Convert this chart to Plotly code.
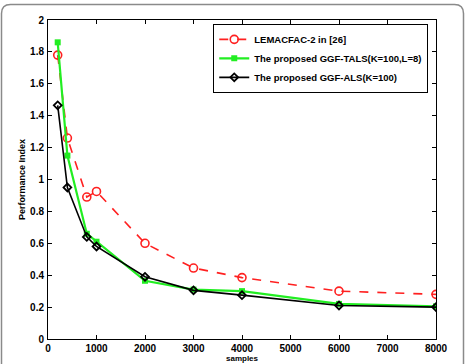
import plotly.graph_objects as go

samples = [200, 400, 800, 1000, 2000, 3000, 4000, 6000, 8000]
lemacfac = [1.78, 1.26, 0.89, 0.925, 0.60, 0.445, 0.385, 0.30, 0.28]
ggf_tals = [1.86, 1.15, 0.66, 0.61, 0.365, 0.31, 0.30, 0.22, 0.205]
ggf_als = [1.465, 0.95, 0.64, 0.58, 0.39, 0.305, 0.275, 0.21, 0.20]

names = ["LEMACFAC-2 in [26]", "The proposed GGF-TALS(K=100,L=8)", "The proposed GGF-ALS(K=100)"]
xticks = [0, 1000, 2000, 3000, 4000, 5000, 6000, 7000, 8000]
yticks = [0, 0.2, 0.4, 0.6, 0.8, 1, 1.2, 1.4, 1.6, 1.8, 2]
x_title = "samples"
y_title = "Performance Index"

FONT = "Arial, Liberation Sans, sans-serif"

fig = go.Figure()
fig.add_trace(go.Scatter(x=samples, y=lemacfac, name=names[0], mode="lines+markers",
                         line=dict(color="#ff2020", width=1.6, dash="dash"),
                         marker=dict(symbol="circle-open", size=8, color="#ff2020", line=dict(width=1.6))))
fig.add_trace(go.Scatter(x=samples, y=ggf_tals, name=names[1], mode="lines+markers",
                         line=dict(color="#22ee22", width=2.2),
                         marker=dict(symbol="square", size=6, color="#22ee22")))
fig.add_trace(go.Scatter(x=samples, y=ggf_als, name=names[2], mode="lines+markers",
                         line=dict(color="black", width=1.6),
                         marker=dict(symbol="diamond-open", size=6, color="black", line=dict(width=1.8))))

L, R, T, B = 48, 31, 20, 25
W, H = 467, 364
pw, ph = W - L - R, H - T - B

def px(x):
    return (x - L) / pw

def py(y):
    return (H - B - y) / ph

# rounded frame around the figure
x0, x1, yt, yb, r = 1.5, 463.5, 4.5, 380, 9
path = (f"M {px(x0)},{py(yb)} L {px(x0)},{py(yt + r)} Q {px(x0)},{py(yt)} {px(x0 + r)},{py(yt)} "
        f"L {px(x1 - r)},{py(yt)} Q {px(x1)},{py(yt)} {px(x1)},{py(yt + r)} L {px(x1)},{py(yb)}")
fig.add_shape(type="path", path=path, xref="paper", yref="paper",
              line=dict(color="#8a8a8a", width=1.5), layer="below")

fig.add_annotation(text=x_title, xref="paper", yref="paper", x=0.5, y=py(364),
                   xanchor="center", yanchor="bottom", showarrow=False, borderpad=0,
                   font=dict(family=FONT, size=8, color="black", weight="bold"))

axis_common = dict(showgrid=False, zeroline=False, showline=True, linecolor="black", linewidth=1,
                   mirror="ticks", ticks="inside", ticklen=4, tickcolor="black", automargin=False,
                   tickfont=dict(family=FONT, size=10, color="black", weight="bold"))

fig.update_layout(
    width=W, height=H,
    margin=dict(l=L, r=R, t=T, b=B),
    paper_bgcolor="white", plot_bgcolor="white",
    showlegend=True,
    legend=dict(x=0.98, y=0.988, xanchor="right", yanchor="top",
                bgcolor="white", bordercolor="black", borderwidth=1,
                font=dict(family=FONT, size=9.5, color="black", weight="bold"),
                tracegroupgap=0, itemwidth=30),
    xaxis=dict(range=[0, 8000], tickvals=xticks, ticktext=[str(v) for v in xticks],
               ticklabelstandoff=0, **axis_common),
    yaxis=dict(range=[0, 2], tickvals=yticks, ticktext=[f"{v:g}" for v in yticks],
               ticklabelstandoff=1,
               title=dict(text=y_title, font=dict(family=FONT, size=9, color="black", weight="bold"), standoff=2),
               **axis_common),
)

fig.write_html("out.html")
